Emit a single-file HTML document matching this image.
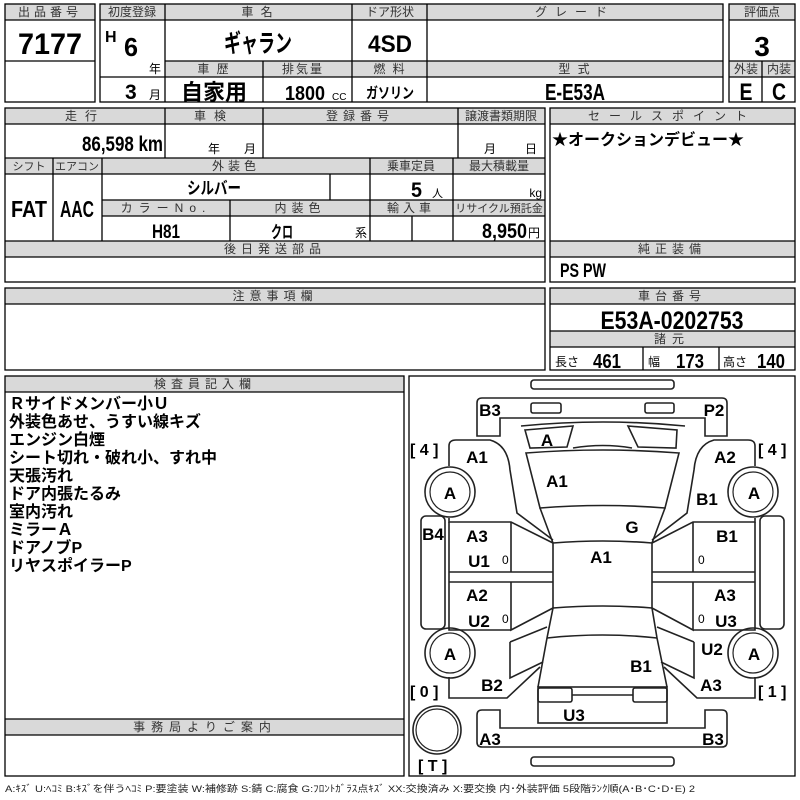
<!DOCTYPE html>
<html><head><meta charset="utf-8"><style>
html,body{margin:0;padding:0;background:#fff;}
svg{display:block;font-family:"Liberation Sans","Noto Sans CJK JP",sans-serif;}
.h{font-size:12px;fill:#333;text-anchor:middle;letter-spacing:2px}
.b{font-weight:bold;fill:#000}
.c{text-anchor:middle}
.r{text-anchor:end}
.g{fill:#d9d9d9;stroke:none}
.o{fill:none;stroke:#000;stroke-width:1.3}
.d{fill:none;stroke:#222;stroke-width:1.6}
.dl{font-size:17px;font-weight:bold;fill:#000;text-anchor:middle}
</style></head><body>
<svg width="800" height="800" viewBox="0 0 800 800">
<rect class="g" x="5" y="4" width="90" height="16"/>
<rect class="g" x="100" y="4" width="623" height="16"/>
<rect class="g" x="165" y="61" width="558" height="16"/>
<rect class="g" x="729" y="4" width="66" height="16"/>
<rect class="g" x="729" y="61" width="66" height="16"/>
<rect class="g" x="5" y="108" width="540" height="16"/>
<rect class="g" x="5" y="158" width="540" height="16"/>
<rect class="g" x="102" y="200" width="443" height="16"/>
<rect class="g" x="5" y="241" width="540" height="16"/>
<rect class="g" x="550" y="108" width="245" height="16"/>
<rect class="g" x="550" y="241" width="245" height="16"/>
<rect class="g" x="5" y="288" width="540" height="16"/>
<rect class="g" x="550" y="288" width="245" height="16"/>
<rect class="g" x="550" y="331" width="245" height="16"/>
<rect class="g" x="5" y="376" width="399" height="16"/>
<rect class="g" x="5" y="719" width="399" height="16"/>

<rect class="o" x="5" y="4" width="90" height="98"/>
<path class="o" d="M5 20H95M5 61H95"/>
<text class="h" x="50" y="16" style="letter-spacing:4px">出品番号</text>
<text class="b c" x="50" y="54" font-size="30" textLength="64" lengthAdjust="spacingAndGlyphs">7177</text>

<rect class="o" x="100" y="4" width="623" height="98"/>
<path class="o" d="M100 20H723M165 61H723M100 77H723M165 4V102M352 4V102M427 4V102M263 61V102"/>
<text class="h" x="132" y="16" style="letter-spacing:0">初度登録</text>
<text class="h" x="258" y="16">車 名</text>
<text class="h" x="390" y="16" style="letter-spacing:0">ドア形状</text>
<text class="h" x="575" y="16" style="letter-spacing:8px">グレード</text>
<text class="h" x="214" y="73">車 歴</text>
<text class="h" x="303" y="73">排気量</text>
<text class="h" x="390" y="73">燃 料</text>
<text class="h" x="575" y="73">型 式</text>
<text class="b" x="105" y="42" font-size="16">H</text>
<text class="b" x="124" y="56" font-size="26" textLength="14" lengthAdjust="spacingAndGlyphs">6</text>
<text x="149" y="73" font-size="12">年</text>
<text class="b" x="125" y="99" font-size="21">3</text>
<text x="149" y="99" font-size="12">月</text>
<text class="b c" x="258" y="52" font-size="25" textLength="68" lengthAdjust="spacingAndGlyphs">ギャラン</text>
<text class="b c" x="390" y="52" font-size="24" textLength="44" lengthAdjust="spacingAndGlyphs">4SD</text>
<text class="b c" x="214" y="100" font-size="22">自家用</text>
<text class="b" x="285" y="100" font-size="20" textLength="40" lengthAdjust="spacingAndGlyphs">1800</text>
<text x="332" y="100" font-size="10">CC</text>
<text class="b c" x="390" y="98" font-size="15" textLength="48" lengthAdjust="spacingAndGlyphs">ガソリン</text>
<text class="b c" x="575" y="100" font-size="23" textLength="60" lengthAdjust="spacingAndGlyphs">E-E53A</text>

<rect class="o" x="729" y="4" width="66" height="98"/>
<path class="o" d="M729 20H795M729 61H795M729 77H795M762 61V102"/>
<text class="h" x="762" y="16" style="letter-spacing:0">評価点</text>
<text class="b c" x="762" y="56" font-size="28">3</text>
<text class="h" x="746" y="73" style="letter-spacing:0">外装</text>
<text class="h" x="779" y="73" style="letter-spacing:0">内装</text>
<text class="b c" x="746" y="100" font-size="24" textLength="13" lengthAdjust="spacingAndGlyphs">E</text>
<text class="b c" x="779" y="100" font-size="24" textLength="14" lengthAdjust="spacingAndGlyphs">C</text>

<rect class="o" x="5" y="108" width="540" height="174"/>
<path class="o" d="M5 124H545M5 158H545M5 174H545M102 200H545M102 216H545M5 241H545M5 257H545M165 108V158M263 108V158M458 108V158M53 158V241M102 158V241M370 158V241M453 158V241M330 174V200M230 200V241M412 216V241"/>
<text class="h" x="85" y="120" style="letter-spacing:8px">走行</text>
<text class="h" x="214" y="120" style="letter-spacing:8px">車検</text>
<text class="h" x="360" y="120" style="letter-spacing:5px">登録番号</text>
<text class="h" x="501" y="120" style="letter-spacing:0">譲渡書類期限</text>
<text class="b" x="82" y="151" font-size="21" textLength="81" lengthAdjust="spacingAndGlyphs">86,598 km</text>
<text x="208" y="153" font-size="12">年</text>
<text x="244" y="153" font-size="12">月</text>
<text x="484" y="153" font-size="12">月</text>
<text x="525" y="153" font-size="12">日</text>
<text class="h" x="29" y="170" style="letter-spacing:0;font-size:11px">シフト</text>
<text class="h" x="77" y="170" style="letter-spacing:0;font-size:11px">エアコン</text>
<text class="h" x="236" y="170" style="letter-spacing:4px">外装色</text>
<text class="h" x="411" y="170" style="letter-spacing:0">乗車定員</text>
<text class="h" x="499" y="170" style="letter-spacing:0">最大積載量</text>
<text class="b c" x="29" y="217" font-size="23" textLength="36" lengthAdjust="spacingAndGlyphs">FAT</text>
<text class="b c" x="77" y="217" font-size="23" textLength="34" lengthAdjust="spacingAndGlyphs">AAC</text>
<text class="b c" x="214" y="194" font-size="17" textLength="54" lengthAdjust="spacingAndGlyphs">シルバー</text>
<text class="b" x="411" y="197" font-size="21" textLength="11" lengthAdjust="spacingAndGlyphs">5</text>
<text x="432" y="197" font-size="11">人</text>
<text class="r" x="542" y="197" font-size="12">kg</text>
<text class="h" x="166" y="212" style="letter-spacing:6px">カラーNo.</text>
<text class="h" x="300" y="212" style="letter-spacing:5px">内装色</text>
<text class="h" x="411" y="212" style="letter-spacing:4px">輸入車</text>
<text class="h" x="499" y="212" style="letter-spacing:0;font-size:11px">リサイクル預託金</text>
<text class="b c" x="166" y="238" font-size="19" textLength="28" lengthAdjust="spacingAndGlyphs">H81</text>
<text class="b c" x="282" y="238" font-size="17" textLength="22" lengthAdjust="spacingAndGlyphs">クロ</text>
<text x="355" y="237" font-size="12">系</text>
<text class="b" x="482" y="238" font-size="21" textLength="45" lengthAdjust="spacingAndGlyphs">8,950</text>
<text x="528" y="237" font-size="12">円</text>
<text class="h" x="275" y="253" style="letter-spacing:5px">後日発送部品</text>

<rect class="o" x="550" y="108" width="245" height="174"/>
<path class="o" d="M550 124H795M550 241H795M550 257H795"/>
<text class="h" x="672" y="120" style="letter-spacing:9px">セールスポイント</text>
<text class="b" x="552" y="145" font-size="16">★オークションデビュー★</text>
<text class="h" x="672" y="253" style="letter-spacing:5px">純正装備</text>
<text class="b" x="560" y="277" font-size="19" textLength="46" lengthAdjust="spacingAndGlyphs">PS PW</text>

<rect class="o" x="5" y="288" width="540" height="82"/>
<path class="o" d="M5 304H545"/>
<text class="h" x="275" y="300" style="letter-spacing:5px">注意事項欄</text>

<rect class="o" x="550" y="288" width="245" height="82"/>
<path class="o" d="M550 304H795M550 331H795M550 347H795M643 347V370M719 347V370"/>
<text class="h" x="672" y="300" style="letter-spacing:5px">車台番号</text>
<text class="b c" x="672" y="329" font-size="25" textLength="143" lengthAdjust="spacingAndGlyphs">E53A-0202753</text>
<text class="h" x="672" y="343" style="letter-spacing:6px">諸元</text>
<text x="555" y="366" font-size="12">長さ</text>
<text class="b" x="593" y="368" font-size="20" textLength="28" lengthAdjust="spacingAndGlyphs">461</text>
<text x="648" y="366" font-size="12">幅</text>
<text class="b" x="676" y="368" font-size="20" textLength="28" lengthAdjust="spacingAndGlyphs">173</text>
<text x="723" y="366" font-size="12">高さ</text>
<text class="b" x="757" y="368" font-size="20" textLength="28" lengthAdjust="spacingAndGlyphs">140</text>

<rect class="o" x="5" y="376" width="399" height="400"/>
<path class="o" d="M5 392H404M5 719H404M5 735H404"/>
<text class="h" x="205" y="388" style="letter-spacing:5px">検査員記入欄</text>
<g font-size="16" font-weight="bold">
<text x="9" y="409">Ｒサイドメンバー小Ｕ</text>
<text x="9" y="427">外装色あせ、うすい線キズ</text>
<text x="9" y="445">エンジン白煙</text>
<text x="9" y="463">シート切れ・破れ小、すれ中</text>
<text x="9" y="481">天張汚れ</text>
<text x="9" y="499">ドア内張たるみ</text>
<text x="9" y="517">室内汚れ</text>
<text x="9" y="535">ミラーＡ</text>
<text x="9" y="553">ドアノブP</text>
<text x="9" y="571">リヤスポイラーP</text>
</g>
<text class="h" x="205" y="731" style="letter-spacing:6px">事務局よりご案内</text>

<rect class="o" x="409" y="376" width="386" height="400"/>
<g class="d">
<rect x="531" y="380" width="143" height="9" rx="3"/>
<rect x="531" y="757" width="143" height="9" rx="3"/>
<path d="M477 403Q477 398 482 398H722Q727 398 727 403V436H705V418H500V436H477Z"/>
<rect x="531" y="403" width="30" height="10" rx="2"/>
<rect x="645" y="403" width="29" height="10" rx="2"/>
<path d="M521 426Q603 418 685 426"/>
<path d="M525 430L573 426L567 447L530 448Z"/>
<path d="M628 426L677 430L676 448L638 447Z"/>
<path d="M573 448Q603 443 632 448"/>
<path d="M526 453Q603 447 679 453L665 508Q603 503 540 508Z"/>
<path d="M540 508L553 543M665 508L652 543"/>
<path d="M553 543Q603 539 652 543V608Q603 604 553 608Z"/>
<path d="M553 608L547 638M652 608L657 638M547 638Q603 632 657 638"/>
<path d="M547 638L538 687M657 638L667 687"/>
<rect x="538" y="687" width="129" height="36"/>
<rect x="538" y="688" width="34" height="14" rx="2"/>
<rect x="633" y="688" width="34" height="14" rx="2"/>
<path d="M572 695H633"/>
<path d="M449 466V446Q449 440 456 440H490Q508 445 510 470L517 513L553 540"/>
<path d="M449 518V522H511L553 543"/>
<path d="M755 466V446Q755 440 748 440H714Q696 445 694 470L687 513L652 540"/>
<path d="M755 518V522H693L652 543"/>
<path d="M449 522V630H511M449 572H553M449 582H553M511 522V572M511 582V630L553 608"/>
<path d="M755 522V630H693M755 572H652M755 582H652M693 522V572M693 582V630L652 608"/>
<path d="M510 642L547 627M510 642V678L543 662M449 677V698H507L540 667"/>
<path d="M694 642L657 627M694 642V678L661 662M755 677V698H697L664 667"/>
<path d="M477 715Q477 710 482 710H500V728H705V710H722Q727 710 727 715V742Q727 747 722 747H482Q477 747 477 742Z"/>
<rect x="421" y="516" width="24" height="113" rx="5"/>
<rect x="760" y="516" width="24" height="113" rx="5"/>
<circle cx="450" cy="492" r="25"/><circle cx="450" cy="492" r="20" stroke-width="1.2"/>
<circle cx="450" cy="653" r="25"/><circle cx="450" cy="653" r="20" stroke-width="1.2"/>
<circle cx="753" cy="492" r="25"/><circle cx="753" cy="492" r="20" stroke-width="1.2"/>
<circle cx="753" cy="653" r="25"/><circle cx="753" cy="653" r="20" stroke-width="1.2"/>
<circle cx="437" cy="730" r="24"/><circle cx="437" cy="730" r="21" stroke-width="1.2"/>
</g>
<g class="dl">
<text x="490" y="416">B3</text><text x="714" y="416">P2</text>
<text x="547" y="446">A</text>
<text x="477" y="463">A1</text><text x="725" y="463">A2</text>
<text x="557" y="487">A1</text>
<text x="450" y="499">A</text><text x="754" y="499">A</text>
<text x="707" y="505">B1</text>
<text x="433" y="540">B4</text>
<text x="477" y="542">A3</text><text x="727" y="542">B1</text>
<text x="632" y="533">G</text>
<text x="601" y="563">A1</text>
<text x="479" y="567">U1</text>
<text x="477" y="601">A2</text><text x="725" y="601">A3</text>
<text x="479" y="627">U2</text><text x="726" y="627">U3</text>
<text x="712" y="655">U2</text>
<text x="450" y="660">A</text><text x="754" y="660">A</text>
<text x="641" y="672">B1</text>
<text x="492" y="691">B2</text><text x="711" y="691">A3</text>
<text x="574" y="721">U3</text>
<text x="490" y="745">A3</text><text x="713" y="745">B3</text>
</g>
<g font-size="12" fill="#000">
<text x="502" y="564">0</text><text x="502" y="623">0</text>
<text x="698" y="564">0</text><text x="698" y="623">0</text>
</g>
<g font-size="16" font-weight="bold">
<text x="410" y="455">[ 4 ]</text>
<text x="758" y="455">[ 4 ]</text>
<text x="410" y="697">[ 0 ]</text>
<text x="758" y="697">[ 1 ]</text>
<text x="418" y="771">[ T ]</text>
</g>
<text x="5" y="792" font-size="9.5" fill="#222" textLength="690" lengthAdjust="spacingAndGlyphs">A:ｷｽﾞ U:ﾍｺﾐ B:ｷｽﾞを伴うﾍｺﾐ P:要塗装 W:補修跡 S:錆 C:腐食 G:ﾌﾛﾝﾄｶﾞﾗｽ点ｷｽﾞ XX:交換済み X:要交換  内･外装評価  5段階ﾗﾝｸ順(A･B･C･D･E) 2</text>
</svg>
</body></html>
